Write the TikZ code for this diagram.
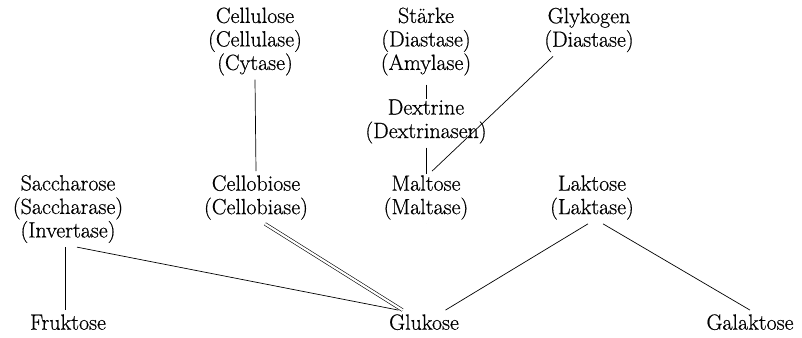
\documentclass[tikz,border=0pt]{standalone}
\usepackage{fontspec}
\setmainfont{Latin Modern Roman}[FakeBold=0.6]
\begin{document}
\begin{tikzpicture}[x=1pt,y=-1pt,
  lbl/.style={align=center,inner sep=4pt,font=\fontsize{22}{23.5}\selectfont},
  bot/.style={lbl,text height=15.4pt,text depth=0pt},
  ln/.style={line width=0.7pt},
  dbl/.style={double,double distance=#1,line width=0.6pt},
  dbl/.default=3pt]
\useasboundingbox (0,0) rectangle (802,337);
\node[lbl] (cellulose) at (255,41.5) {Cellulose\\(Cellulase)\\(Cytase)};
\node[lbl] (staerke) at (426,41.5) {Stärke\\(Diastase)\\(Amylase)};
\node[lbl] (glykogen) at (589,30) {Glykogen\\(Diastase)};
\node[lbl] (dextrine) at (426,121.5) {Dextrine\\(Dextrinasen)};
\node[lbl] (sacch) at (68,209) {Saccharose\\(Saccharase)\\(Invertase)};
\node[lbl] (cellob) at (256,197.5) {Cellobiose\\(Cellobiase)};
\node[lbl] (maltose) at (426,197.5) {Maltose\\(Maltase)};
\node[lbl] (laktose) at (592,197.5) {Laktose\\(Laktase)};
\node[bot] (fruk) at (68,322) {Fruktose};
\node[bot] (glu) at (424,322) {Glukose};
\node[bot] (galak) at (750,322) {Galaktose};

\draw[ln] (cellulose.south) -- (cellob.north);
\draw[ln,shorten <=5pt,shorten >=-4pt] (staerke.south) -- (dextrine.north);
\draw[ln,shorten >=-3pt] (dextrine.south) -- (maltose.north);
\draw[ln] ([xshift=-36pt]glykogen.south) -- ([xshift=6pt]maltose.north);
\draw[ln] ([xshift=-3pt]sacch.south) -- ([xshift=-3pt]fruk.north);
\draw[ln] ([xshift=9pt]sacch.south) -- (glu.155);
\draw[dbl=2.2pt] ([xshift=9pt]cellob.south) -- (glu.151);
\draw[dbl=3.2pt] ([xshift=-1pt]maltose.south) -- ([xshift=1pt]glu.north);
\draw[ln] ([xshift=-4pt]laktose.south) -- (glu.29);
\draw[ln] ([xshift=11pt]laktose.south) -- (galak.north);
\end{tikzpicture}
\end{document}
